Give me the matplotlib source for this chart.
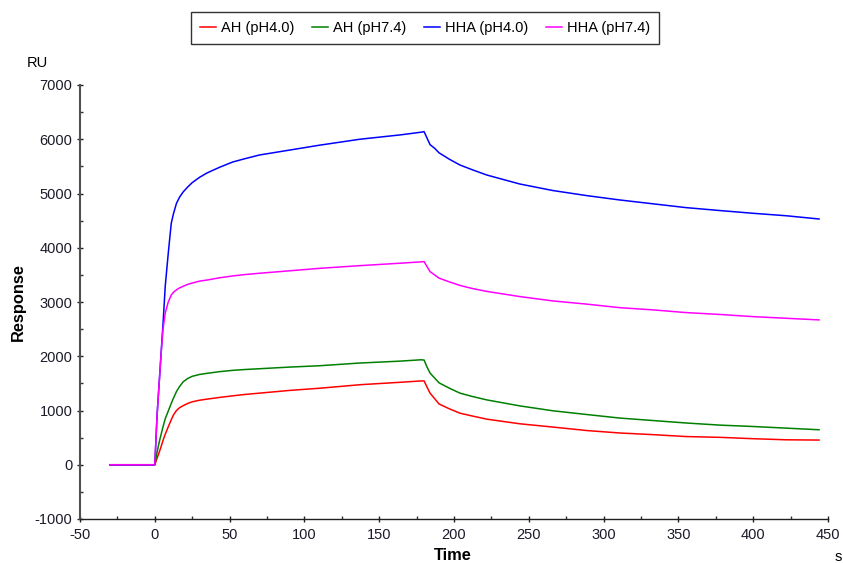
import matplotlib
matplotlib.use("Agg")
import matplotlib.pyplot as plt
from matplotlib.ticker import MultipleLocator

plt.rcParams['font.family'] = ['Liberation Sans', 'DejaVu Sans']
plt.rcParams['axes.unicode_minus'] = False

# Time (s)
time = [-30, 0, 1.5, 2.5, 3.5, 4.5, 5.5, 7, 9, 11, 12.5, 14.5, 16.5, 19, 22, 25, 30, 35, 43, 52, 60, 70, 90, 110,
        137, 164, 178, 180, 182, 184, 187, 190, 197, 204, 212, 222, 244, 266, 289, 311, 333, 355, 378, 400, 422, 444]

ah_ph40 = [0, 0, 120, 195, 275, 360, 450, 565, 700, 830, 920, 1000, 1050, 1090, 1130, 1160, 1190, 1210, 1240, 1270,
           1295, 1320, 1370, 1410, 1475, 1520, 1545, 1545, 1430, 1320, 1220, 1120, 1030, 950, 900, 840, 755, 695,
           630, 585, 555, 520, 505, 480, 460, 455]
ah_ph74 = [0, 0, 230, 360, 480, 590, 700, 850, 990, 1130, 1230, 1350, 1440, 1530, 1590, 1630, 1665, 1685, 1715, 1740,
           1755, 1770, 1800, 1825, 1875, 1910, 1935, 1930, 1800, 1690, 1600, 1510, 1410, 1320, 1260, 1195, 1085, 995,
           925, 860, 815, 770, 730, 705, 675, 645]
hha_ph40 = [0, 0, 900, 1330, 1750, 2180, 2600, 3300, 3900, 4450, 4630, 4820, 4930, 5030, 5120, 5200, 5300, 5380, 5480,
            5580, 5640, 5710, 5800, 5890, 6000, 6080, 6130, 6140, 6020, 5900, 5835, 5750, 5630, 5525, 5440, 5340,
            5175, 5055, 4960, 4880, 4810, 4740, 4685, 4635, 4590, 4530]
hha_ph74 = [0, 0, 900, 1330, 1750, 2150, 2500, 2800, 3000, 3130, 3180, 3225, 3260, 3290, 3325, 3350, 3385, 3405, 3445,
            3480, 3505, 3530, 3575, 3620, 3670, 3715, 3740, 3745, 3650, 3560, 3500, 3440, 3370, 3305, 3250, 3195,
            3100, 3020, 2960, 2895, 2855, 2805, 2770, 2730, 2700, 2670]

labels = ['AH (pH4.0)', 'AH (pH7.4)', 'HHA (pH4.0)', 'HHA (pH7.4)']
colors = ['#FF0000', '#008000', '#0000FF', '#FF00FF']
series = [ah_ph40, ah_ph74, hha_ph40, hha_ph74]

W, H = 843, 563
fig = plt.figure(figsize=(W / 100, H / 100), dpi=100)
ax = fig.add_axes([80 / W, 1 - 519 / H, (828 - 80) / W, (519 - 85) / H])

handles = []
for vals, c, lab in zip(series, colors, labels):
    h, = ax.plot(time, vals, color=c, lw=1.1, label=lab)
    handles.append(h)

ax.set_xlim(-50, 450)
ax.set_ylim(-1000, 7000)
ax.xaxis.set_major_locator(MultipleLocator(50))
ax.xaxis.set_minor_locator(MultipleLocator(25))
ax.yaxis.set_major_locator(MultipleLocator(1000))
ax.yaxis.set_minor_locator(MultipleLocator(500))

for s in ['top', 'right']:
    ax.spines[s].set_visible(False)
ax.spines['left'].set_color('#505050')
ax.spines['left'].set_linewidth(1.5)
ax.spines['bottom'].set_color('#202020')
ax.spines['bottom'].set_linewidth(1.0)

ax.tick_params(which='major', direction='inout', length=5, width=1, colors='#202020',
               labelsize=10.5, labelcolor='#1a1a2a')
ax.tick_params(axis='y', which='major', pad=3)
ax.tick_params(axis='x', which='major', pad=4)
ax.tick_params(which='minor', direction='in', length=2.5, width=1, colors='#303030')

fig.text(18 / W, 1 - 302 / H, 'Response', rotation=90, ha='center', va='center',
         fontsize=11.8, fontweight='bold')
fig.text(453 / W, 1 - 556 / H, 'Time', ha='center', va='center', fontsize=11.8, fontweight='bold')
fig.text(37 / W, 1 - 63 / H, 'RU', ha='center', va='center', fontsize=10.5)
fig.text(838 / W, 1 - 557 / H, 's', ha='center', va='center', fontsize=10.5)

leg = fig.legend(handles=handles, labels=labels, loc='center', bbox_to_anchor=(425 / W, 1 - 28 / H),
                 ncol=4, frameon=True, fancybox=False, fontsize=10.5, handlelength=1.1,
                 handletextpad=0.35, columnspacing=1.2, borderpad=0.6, borderaxespad=0)
leg.get_frame().set_edgecolor('black')
leg.get_frame().set_linewidth(1.0)

fig.savefig('out.png', dpi=100)
